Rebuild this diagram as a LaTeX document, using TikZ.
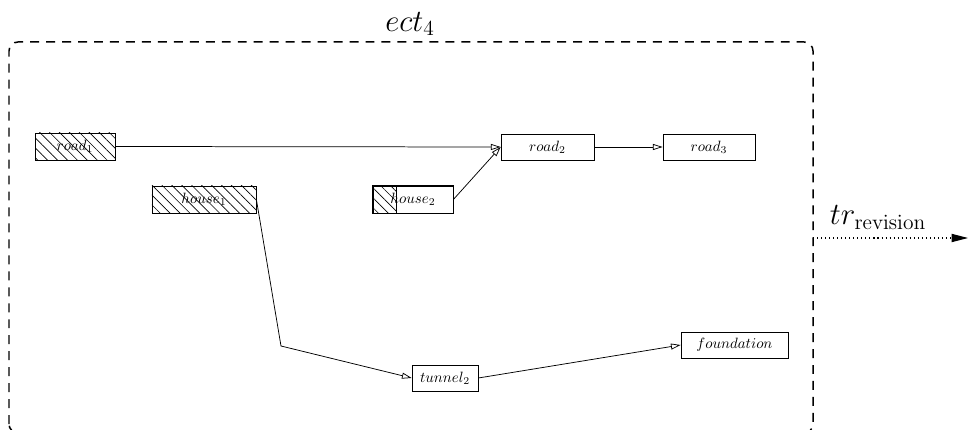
\documentclass[tikz,border=0pt]{standalone}
\usetikzlibrary{arrows.meta,patterns.meta}
\begin{document}
\begin{tikzpicture}[x=0.67pt,y=-0.67pt,
  box/.style={draw, line width=0.5pt, inner sep=0pt, font=\fontsize{10}{12}\selectfont},
  hatch/.style={pattern={Lines[angle=-45,distance=4.7pt,line width=0.45pt]}},
  flow/.style={line width=0.5pt, -{Triangle[open,length=6.5pt,width=4pt]}},
  biglabel/.style={font=\fontsize{20}{22}\selectfont, inner sep=0pt}]
\useasboundingbox (0,0) rectangle (970,430);

% enclosing dashed frame (its lower edge runs past the page)
\begin{scope}
  \clip (0,0) rectangle (970,430);
  \draw[line width=1pt, dash pattern=on 6pt off 4.7pt, rounded corners=6pt]
    (9,433) rectangle (813,42);
\end{scope}
\node[biglabel] (frame) at (410,24) {$ect_4$};

% components
\node[box, hatch, minimum width=53.6pt, minimum height=18.1pt] (road1) at (75,146.5) {$road_1$};
\node[box, hatch, minimum width=69.7pt, minimum height=18.1pt] (house1) at (204,199.5) {$house_1$};
\node[box, minimum width=53.6pt, minimum height=18.1pt] (house2) at (413,199.5) {};
\fill[pattern={Lines[angle=-45,distance=4.7pt,line width=0.45pt]}]
  (house2.north west) rectangle ([xshift=16pt]house2.south west);
\draw[line width=0.5pt] ([xshift=16pt]house2.north west) -- ([xshift=16pt]house2.south west);
\draw[line width=0.5pt] (house2.north west) rectangle (house2.south east);
\node[font=\fontsize{10}{12}\selectfont, inner sep=0pt] (house2text) at (house2) {$house_2$};
\node[box, minimum width=62.3pt, minimum height=17.4pt] (road2) at (547.5,147) {$road_2$};
\node[box, minimum width=61.6pt, minimum height=17.4pt] (road3) at (709,147) {$road_3$};
\node[box, minimum width=44.2pt, minimum height=17.4pt] (tunnel2) at (445,378) {$tunnel_2$};
\node[box, minimum width=71.7pt, minimum height=17.4pt] (foundation) at (734.5,345) {$foundation$};

% connections
\coordinate (bend) at (281,346);
\draw[flow] (road1.east) -- (road2.west);
\draw[flow] (house2.east) -- (road2.west);
\draw[flow] (road2.east) -- (road3.west);
\draw[flow] (house1.east) -- (bend) -- (tunnel2.west);
\draw[flow] (tunnel2.east) -- (foundation.west);

% outgoing transition
\coordinate (trstart) at (813,238);
\coordinate (trend) at (968,238);
\draw[line width=0.7pt, dotted, -{Triangle[length=11pt,width=5.5pt]}] (trstart) -- (trend);
\node[biglabel, anchor=base] (trlabel) at (878,225) {$tr_{\mathrm{revision}}$};
\end{tikzpicture}
\end{document}
